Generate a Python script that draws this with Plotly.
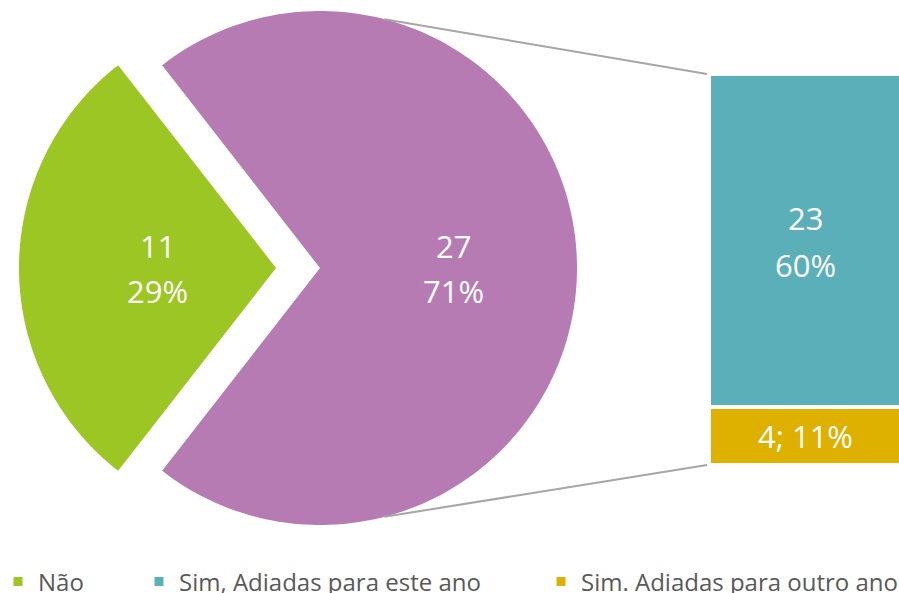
import numpy as np
import plotly.graph_objects as go

# ---------------- data ----------------
pie_labels = ["Não", "Sim"]
pie_values = [11, 27]
pie_pct = [29, 71]
bar_labels = ["Sim, Adiadas para este ano", "Sim. Adiadas para outro ano"]
bar_values = [23, 4]
bar_pct = [60, 11]

# ---------------- style / layout ----------------
W, H = 899, 593
CX, CY, R = 320, 268, 257          # main pie centre / radius (px)
EXPLODE = 44                        # pull of the "Não" slice (px)
CONNECT_ANGLE = 75.5                # where connector lines leave the pie (deg)
BAR_L, BAR_T, BAR_B = 711, 76, 463  # secondary bar box (px)
GAP = 4
COL = {"Não": "#9BC623", "Sim": "#B77BB4",
       bar_labels[0]: "#5BAFB8", bar_labels[1]: "#DEB000"}
FONT = "Open Sans"
LBL_SIZE = 31

total = sum(pie_values)
fig = go.Figure()


def sector(cx, cy, r, a0, a1, n=200):
    th = np.radians(np.linspace(a0, a1, n))
    xs = np.concatenate([[cx], cx + r * np.cos(th), [cx]])
    ys = np.concatenate([[cy], cy - r * np.sin(th), [cy]])
    return xs, ys


# angles (deg, math convention): "Sim" centred on 0, "Não" on 180
half = [180.0 * v / total for v in pie_values]
slices = [
    (pie_labels[0], CX - EXPLODE, CY, 180 - half[0], 180 + half[0], 180, 0.46),
    (pie_labels[1], CX, CY, -half[1], half[1], 0, 0.52),
]
for (name, cx, cy, a0, a1, mid, lr), v, p in zip(slices, pie_values, pie_pct):
    xs, ys = sector(cx, cy, R, a0, a1)
    fig.add_trace(go.Scatter(x=xs, y=ys, fill="toself", mode="none",
                             fillcolor=COL[name], showlegend=False,
                             hoverinfo="skip", xaxis="x", yaxis="y"))
    lx = cx + lr * R * np.cos(np.radians(mid))
    ly = cy - lr * R * np.sin(np.radians(mid))
    for txt, sh in ((str(v), 22), (f"{p}%", -23)):
        fig.add_annotation(x=lx, y=ly, xref="x", yref="y", text=txt,
                           showarrow=False, yshift=sh,
                           font=dict(family=FONT, size=LBL_SIZE, color="white"))

# connector lines
for sgn, by in ((1, BAR_T - 2), (-1, BAR_B + 2)):
    a = np.radians(sgn * CONNECT_ANGLE)
    fig.add_trace(go.Scatter(x=[CX + R * np.cos(a), BAR_L - GAP],
                             y=[CY - R * np.sin(a), by],
                             mode="lines", line=dict(color="#A6A6A6", width=2),
                             showlegend=False, hoverinfo="skip",
                             xaxis="x", yaxis="y"))

# secondary stacked bar (bottom: outro ano, top: este ano)
for name, v in ((bar_labels[1], bar_values[1]), (bar_labels[0], bar_values[0])):
    fig.add_trace(go.Bar(x=[0], y=[v], width=1, marker_color=COL[name],
                         marker_line=dict(color="white", width=GAP),
                         showlegend=False, hoverinfo="skip",
                         xaxis="x2", yaxis="y2"))
sum_bar = sum(bar_values)
fig.add_annotation(x=0, y=bar_values[1] + bar_values[0] / 2, xref="x2", yref="y2",
                   text=str(bar_values[0]), showarrow=False, yshift=23,
                   font=dict(family=FONT, size=LBL_SIZE, color="white"))
fig.add_annotation(x=0, y=bar_values[1] + bar_values[0] / 2, xref="x2", yref="y2",
                   text=f"{bar_pct[0]}%", showarrow=False, yshift=-24,
                   font=dict(family=FONT, size=LBL_SIZE, color="white"))
fig.add_annotation(x=0, y=bar_values[1] / 2, xref="x2", yref="y2",
                   text=f"{bar_values[1]}; {bar_pct[1]}%", showarrow=False,
                   font=dict(family=FONT, size=LBL_SIZE, color="white"))

# legend entries
legend_names = [pie_labels[0], bar_labels[0], bar_labels[1]]
legend_ids = ["legend", "legend2", "legend3"]
legend_x = [-2 / W, 139 / W, 541 / W]
for name, lid in zip(legend_names, legend_ids):
    fig.add_trace(go.Scatter(x=[None], y=[None], mode="markers", name=name,
                             marker=dict(symbol="square", size=9, color=COL[name]),
                             legend=lid, xaxis="x", yaxis="y"))

leg_common = dict(font=dict(family=FONT, size=24, color="#595959"),
                  bgcolor="rgba(0,0,0,0)", y=(H - 582) / H, yanchor="middle",
                  xanchor="left", orientation="h")
layout_legends = {lid: dict(x=lx, **leg_common) for lid, lx in zip(legend_ids, legend_x)}

pad = GAP / 2
fig.update_layout(
    width=W, height=H, margin=dict(l=0, r=0, t=0, b=0, autoexpand=False),
    paper_bgcolor="white", plot_bgcolor="white",
    xaxis=dict(range=[0, W], visible=False, fixedrange=True, domain=[0, 1]),
    yaxis=dict(range=[H, 0], visible=False, fixedrange=True, domain=[0, 1]),
    xaxis2=dict(range=[-0.5, 0.48], visible=False, fixedrange=True,
                domain=[(BAR_L - pad) / W, 1], anchor="y2"),
    yaxis2=dict(range=[0, sum_bar], visible=False, fixedrange=True,
                domain=[(H - BAR_B - pad) / H, (H - BAR_T + pad) / H], anchor="x2"),
    barmode="stack", bargap=0,
    **layout_legends,
)

fig.write_html("out.html", config={"displayModeBar": False},
               post_script="document.body.style.margin='0';"
                           "document.body.style.overflow='hidden';")
